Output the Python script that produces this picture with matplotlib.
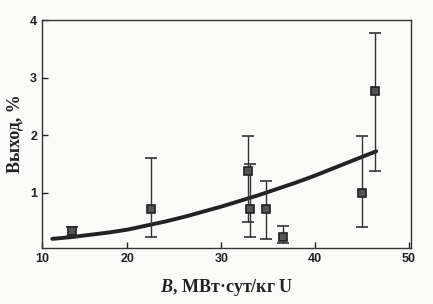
import matplotlib
matplotlib.use("Agg")
import matplotlib.pyplot as plt

# точки с погрешностями
burnup = [14.1, 22.55, 32.8, 33.1, 34.8, 36.6, 45.0, 46.4]
yield_pct = [0.33, 0.72, 1.37, 0.72, 0.72, 0.24, 0.99, 2.76]
err_low = [0.08, 0.48, 0.87, 0.49, 0.52, 0.12, 0.59, 1.39]
err_high = [0.07, 0.89, 0.62, 0.78, 0.49, 0.18, 0.99, 1.01]

# сглаживающая кривая
curve_x = [12, 14, 16, 18, 20, 22, 24, 26, 28, 30, 32, 34, 36, 38, 40, 42, 44, 46.5]
curve_y = [0.20, 0.23, 0.27, 0.31, 0.36, 0.43, 0.50, 0.58, 0.67, 0.76, 0.86, 0.96,
           1.07, 1.18, 1.30, 1.43, 1.56, 1.72]

x_ticks = [10.9, 20, 30, 40, 50]
x_tick_labels = ["10", "20", "30", "40", "50"]
y_ticks = [1, 2, 3, 4]

plt.rcParams["mathtext.fontset"] = "custom"
plt.rcParams["mathtext.it"] = "Liberation Serif:italic:bold"
plt.rcParams["mathtext.rm"] = "Liberation Serif:bold"

fig = plt.figure(figsize=(4.33, 3.04), dpi=100)
fig.patch.set_facecolor("#fbfbf9")
ax = fig.add_axes([0.097, 0.184, 0.852, 0.750])
ax.set_facecolor("#fbfbf9")

ax.plot(curve_x, curve_y, color="#222222", lw=2.8, solid_capstyle="round", zorder=2)
ax.errorbar(burnup, yield_pct, yerr=[err_low, err_high], fmt="s", ms=6,
            mfc="#555555", mec="#222222", mew=1.2, ecolor="#333333",
            elinewidth=1.0, capsize=4, capthick=1.4, zorder=3)

ax.set_xlim(10.9, 50.2)
ax.set_ylim(0.04, 4)
ax.set_xticks(x_ticks)
ax.set_xticklabels(x_tick_labels)
ax.set_yticks(y_ticks)
ax.tick_params(direction="in", length=4, width=1, colors="#222222", labelsize=9)
for lbl in ax.get_xticklabels() + ax.get_yticklabels():
    lbl.set_fontweight("bold")
    lbl.set_family("Liberation Sans")
for s in ax.spines.values():
    s.set_color("#333333")
    s.set_linewidth(1.0)

ax.set_xlabel(r"$B$, МВт·сут/кг U", family="Liberation Serif", fontsize=13,
              fontweight="bold", color="#222222", labelpad=9)
ax.set_ylabel("Выход, %", family="Liberation Serif", fontsize=13,
              fontweight="bold", color="#222222", labelpad=5)

fig.savefig("out.png", dpi=100, facecolor=fig.get_facecolor())
